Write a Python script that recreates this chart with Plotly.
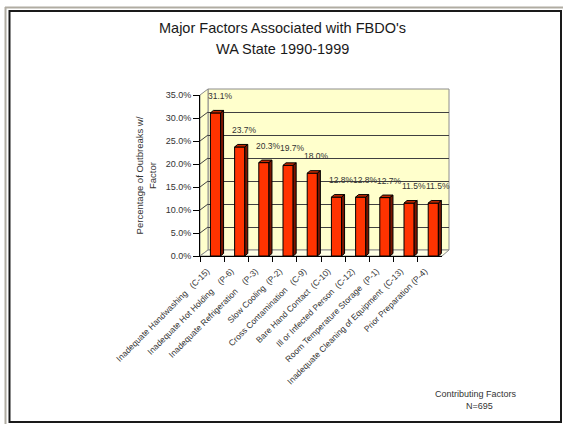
import plotly.graph_objects as go

# Contributing factors and share of outbreaks (%)
factors = [
    "Inadequate Handwashing\u00a0\u00a0\u00a0(C-15)",
    "Inadequate Hot Holding\u00a0\u00a0\u00a0\u00a0(P-6)",
    "Inadequate Refrigeration\u00a0\u00a0\u00a0\u00a0(P-3)",
    "Slow Cooling\u00a0\u00a0(P-2)",
    "Cross Contamination\u00a0\u00a0\u00a0(C-9)",
    "Bare Hand Contact\u00a0\u00a0(C-10)",
    "Ill or Infected Person\u00a0\u00a0(C-12)",
    "Room Temperature Storage\u00a0\u00a0(P-1)",
    "Inadequate Cleaning of Equipment\u00a0\u00a0(C-13)",
    "Prior Preparation (P-4)",
]
pct = [31.1, 23.7, 20.3, 19.7, 18.0, 12.8, 12.8, 12.7, 11.5, 11.5]
y_ticks = [0, 5, 10, 15, 20, 25, 30, 35]

W, H = 563, 424
FONT = "Liberation Sans, Arial, sans-serif"


def px(x):
    return x / W


def py(y):
    return 1 - y / H


# front frame of the 3D box and the back wall (pixel boxes)
FX0, FX1, FY0, FY1 = 200, 442, 95, 256
BX0, BX1, BY0, BY1 = 208, 449, 89, 250
YMAX = 35.0

BAR_W, BAR_OFF = 0.42, -0.07
DEPTH_X, DEPTH_Y = 0.124, 0.55

fig = go.Figure()

# invisible trace so the back-wall subplot exists
fig.add_trace(go.Scatter(x=[0], y=[0], xaxis="x", yaxis="y", mode="markers",
                         marker=dict(opacity=0), hoverinfo="skip", showlegend=False))

fig.add_trace(go.Bar(
    x=factors, y=pct, xaxis="x2", yaxis="y2",
    width=BAR_W, offset=BAR_OFF,
    marker=dict(color="#FF3300", line=dict(color="#000000", width=1)),
    showlegend=False, hoverinfo="skip",
))

shapes = []
# back wall
shapes.append(dict(type="rect", xref="x domain", yref="y domain", x0=0, x1=1, y0=0, y1=1,
                   fillcolor="#FFFFCC", line=dict(color="#8c8c8c", width=1), layer="below"))
# left side wall
shapes.append(dict(type="path", xref="paper", yref="paper",
                   path=f"M{px(FX0)},{py(FY0)} L{px(BX0)},{py(BY0)} L{px(BX0)},{py(BY1)} L{px(FX0)},{py(FY1)} Z",
                   fillcolor="#FFFFCC", line=dict(color="#8c8c8c", width=1), layer="below"))
# floor
shapes.append(dict(type="path", xref="paper", yref="paper",
                   path=f"M{px(FX0)},{py(FY1)} L{px(BX0)},{py(BY1)} L{px(BX1)},{py(BY1)} L{px(FX1)},{py(FY1)} Z",
                   fillcolor="#FFFFE6", line=dict(color="#8c8c8c", width=1), layer="below"))
# side-wall grid lines
for v in y_ticks[1:-1]:
    yf = FY1 - v / YMAX * (FY1 - FY0)
    yb = BY1 - v / YMAX * (BY1 - BY0)
    shapes.append(dict(type="line", xref="paper", yref="paper",
                       x0=px(FX0), y0=py(yf), x1=px(BX0), y1=py(yb),
                       line=dict(color="#404040", width=1), layer="below"))

# top and side faces of each bar
for i, v in enumerate(pct):
    xl = i + BAR_OFF
    xr = xl + BAR_W
    shapes.append(dict(type="path", xref="x2", yref="y2",
                       path=f"M{xl},{v} L{xr},{v} L{xr + DEPTH_X},{v + DEPTH_Y} L{xl + DEPTH_X},{v + DEPTH_Y} Z",
                       fillcolor="#C42800", line=dict(color="#000000", width=1)))
    shapes.append(dict(type="path", xref="x2", yref="y2",
                       path=f"M{xr},0 L{xr},{v} L{xr + DEPTH_X},{v + DEPTH_Y} L{xr + DEPTH_X},{DEPTH_Y} Z",
                       fillcolor="#7A1500", line=dict(color="#000000", width=1)))

# slide frame
shapes.append(dict(type="line", xref="paper", yref="paper", x0=px(5.5), x1=px(5.5), y0=py(7), y1=py(424),
                   line=dict(color="#b0aca2", width=2)))
shapes.append(dict(type="line", xref="paper", yref="paper", x0=px(5), x1=px(563), y0=py(7.5), y1=py(7.5),
                   line=dict(color="#b0aca2", width=2)))
shapes.append(dict(type="rect", xref="paper", yref="paper", x0=px(9.5), x1=px(561), y0=py(11), y1=py(422),
                   line=dict(color="#1a1a1a", width=2)))

annotations = []
for i, v in enumerate(pct):
    annotations.append(dict(x=i, y=v, xref="x2", yref="y2", text=f"{v:.1f}%", showarrow=False,
                            xanchor="center", yanchor="middle", xshift=8, yshift=17,
                            font=dict(family=FONT, size=8.5, color="#333333")))


def note(x, y, text, size, color):
    return dict(x=px(x), y=py(y), xref="paper", yref="paper", text=text, showarrow=False,
                xanchor="center", yanchor="middle", font=dict(family=FONT, size=size, color=color))


annotations += [
    note(282, 28, "Major Factors Associated with FBDO's", 14.5, "#1a1a1a"),
    note(282, 49.5, "WA State 1990-1999", 14.5, "#1a1a1a"),
    note(475.5, 394, "Contributing Factors", 9, "#333333"),
    note(479, 406, "N=695", 9, "#333333"),
]

fig.update_layout(
    width=W, height=H,
    margin=dict(l=0, r=0, t=0, b=0, autoexpand=False),
    paper_bgcolor="#FFFFFF",
    plot_bgcolor="rgba(0,0,0,0)",
    font=dict(family=FONT, color="#333333"),
    shapes=shapes,
    annotations=annotations,
    xaxis=dict(domain=[px(BX0), px(BX1)], anchor="y", range=[-0.5, 9.5], visible=False,
               automargin=False),
    yaxis=dict(domain=[py(BY1), py(BY0)], anchor="x", range=[0, YMAX], tickvals=y_ticks,
               showgrid=True, gridcolor="#404040", gridwidth=1, zeroline=False,
               showticklabels=False, ticks="", showline=False, automargin=False),
    xaxis2=dict(domain=[px(FX0), px(FX1)], anchor="y2", type="category", range=[-0.5, 9.5],
                showgrid=False, showline=True, linecolor="#000000", linewidth=1,
                ticks="outside", ticklen=5, tickcolor="#000000", tickson="boundaries",
                tickangle=-45, ticklabelstandoff=6, ticklabelshift=-5,
                tickfont=dict(family=FONT, size=8.5, color="#333333"),
                automargin=False),
    yaxis2=dict(domain=[py(FY1), py(FY0)], anchor="x2", range=[0, YMAX], tickvals=y_ticks,
                ticktext=[f"{t:.1f}%" for t in y_ticks],
                showgrid=False, zeroline=False, showline=True, linecolor="#000000", linewidth=1,
                ticks="outside", ticklen=6, tickcolor="#000000",
                tickfont=dict(family=FONT, size=9, color="#333333"),
                title=dict(text="Percentage of Outbreaks w/<br>Factor",
                           font=dict(family=FONT, size=9.5, color="#333333"), standoff=7),
                automargin=False),
)

fig.write_html("out.html")
